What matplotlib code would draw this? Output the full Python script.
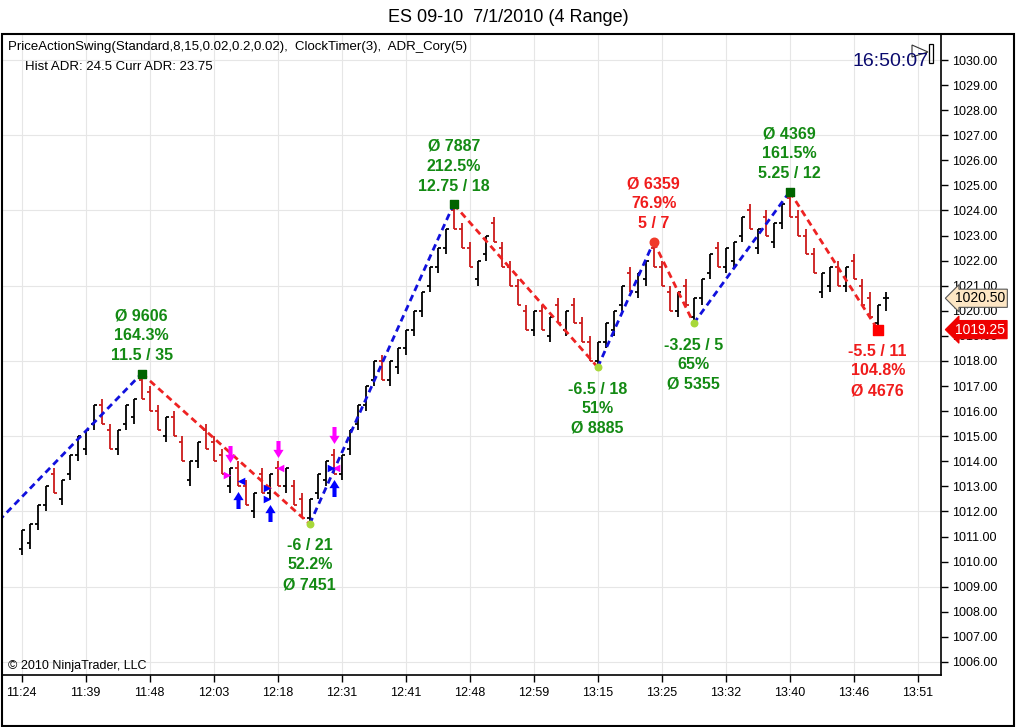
import numpy as np
import matplotlib
matplotlib.use("Agg")
import matplotlib.pyplot as plt
from matplotlib.path import Path
from matplotlib.patches import Rectangle, Polygon

plt.rcParams['font.family'] = ['Liberation Sans', 'DejaVu Sans']

# ---- range bars (4 tick range), one entry per bar ----
highs = [1011.25, 1011.5, 1012.25, 1013.0, 1013.75, 1013.25, 1014.25, 1015.0, 1015.25, 1016.25,
         1016.5, 1015.5, 1015.25, 1016.25, 1016.5, 1017.5, 1017.0, 1016.25, 1015.75, 1016.0,
         1015.0, 1014.0, 1014.75, 1015.5, 1015.0, 1014.5, 1013.75, 1014.0, 1013.25, 1012.75,
         1013.75, 1013.5, 1014.0, 1013.75, 1013.25, 1012.75, 1012.5, 1013.5, 1014.0, 1014.5,
         1014.25, 1015.25, 1016.25, 1017.0, 1018.0, 1018.25, 1018.0, 1018.5, 1019.25, 1020.0,
         1020.75, 1021.75, 1022.5, 1023.25, 1024.25, 1023.5, 1022.75, 1022.0, 1023.0, 1023.75,
         1022.75, 1022.0, 1021.25, 1020.25, 1020.0, 1020.25, 1019.75, 1020.5, 1020.0, 1020.5,
         1019.75, 1019.0, 1018.75, 1019.5, 1020.0, 1021.0, 1021.75, 1021.5, 1022.0, 1022.75,
         1022.0, 1021.0, 1020.75, 1021.25, 1020.5, 1021.25, 1022.25, 1022.75, 1022.5, 1022.75,
         1023.75, 1024.25, 1023.25, 1024.0, 1023.5, 1024.25, 1024.75, 1024.0, 1023.25, 1022.5,
         1021.5, 1021.75, 1022.0, 1021.75, 1022.25, 1021.25, 1020.75, 1020.25, 1020.75]
lows = [1010.25, 1010.5, 1011.25, 1012.0, 1012.75, 1012.25, 1013.25, 1014.0, 1014.25, 1015.25,
        1015.5, 1014.5, 1014.25, 1015.25, 1015.5, 1016.5, 1016.0, 1015.25, 1014.75, 1015.0,
        1014.0, 1013.0, 1013.75, 1014.5, 1014.0, 1013.5, 1012.75, 1013.0, 1012.25, 1011.75,
        1012.75, 1012.5, 1013.0, 1012.75, 1012.25, 1011.75, 1011.5, 1012.5, 1013.0, 1013.5,
        1013.25, 1014.25, 1015.25, 1016.0, 1017.0, 1017.25, 1017.0, 1017.5, 1018.25, 1019.0,
        1019.75, 1020.75, 1021.5, 1022.25, 1023.25, 1022.5, 1021.75, 1021.0, 1022.0, 1022.75,
        1021.75, 1021.0, 1020.25, 1019.25, 1019.0, 1019.25, 1018.75, 1019.5, 1019.0, 1019.5,
        1018.75, 1018.0, 1017.75, 1018.5, 1019.0, 1020.0, 1020.75, 1020.5, 1021.0, 1021.75,
        1021.0, 1020.0, 1019.75, 1020.25, 1019.5, 1020.25, 1021.25, 1021.75, 1021.5, 1021.75,
        1022.75, 1023.25, 1022.25, 1023.0, 1022.5, 1023.25, 1023.75, 1023.0, 1022.25, 1021.5,
        1020.5, 1020.75, 1021.0, 1020.75, 1021.25, 1020.25, 1019.75, 1019.25, 1020.0]
opens = [1010.5, 1010.75, 1011.5, 1012.25, 1013.5, 1012.5, 1013.5, 1014.25, 1014.5, 1015.5,
         1016.25, 1015.25, 1014.5, 1015.5, 1015.75, 1017.25, 1016.75, 1016.0, 1015.0, 1015.75,
         1014.75, 1013.25, 1014.0, 1015.25, 1014.75, 1014.25, 1013.0, 1013.75, 1013.0, 1012.0,
         1013.5, 1012.75, 1013.75, 1013.0, 1013.0, 1012.5, 1011.75, 1012.75, 1013.25, 1014.25,
         1013.5, 1014.5, 1015.5, 1016.25, 1017.25, 1018.0, 1017.25, 1017.75, 1018.5, 1019.25,
         1020.0, 1021.0, 1021.75, 1022.5, 1024.0, 1023.25, 1022.5, 1021.25, 1022.25, 1023.5,
         1022.5, 1021.75, 1021.0, 1020.0, 1019.25, 1020.0, 1019.0, 1020.25, 1019.25, 1020.25,
         1019.5, 1018.75, 1018.0, 1018.75, 1019.25, 1020.25, 1021.5, 1020.75, 1021.25, 1022.5,
         1021.75, 1020.75, 1020.0, 1021.0, 1019.75, 1020.5, 1021.5, 1022.5, 1021.75, 1022.0,
         1023.0, 1024.0, 1022.5, 1023.75, 1022.75, 1023.5, 1024.5, 1023.75, 1023.0, 1022.25,
         1020.75, 1021.0, 1021.75, 1021.0, 1022.0, 1021.0, 1020.5, 1019.5, 1020.5]
closes = [1011.25, 1011.5, 1012.25, 1013.0, 1012.75, 1013.25, 1014.25, 1015.0, 1015.25, 1016.25,
          1015.5, 1014.5, 1015.25, 1016.25, 1016.5, 1016.5, 1016.0, 1015.25, 1015.75, 1015.0,
          1014.0, 1014.0, 1014.75, 1014.5, 1014.0, 1013.5, 1013.75, 1013.0, 1012.25, 1012.75,
          1012.75, 1013.5, 1013.0, 1013.75, 1012.25, 1011.75, 1012.5, 1013.5, 1014.0, 1013.5,
          1014.25, 1015.25, 1016.25, 1017.0, 1018.0, 1017.25, 1018.0, 1018.5, 1019.25, 1020.0,
          1020.75, 1021.75, 1022.5, 1023.25, 1023.25, 1022.5, 1021.75, 1022.0, 1023.0, 1022.75,
          1021.75, 1021.0, 1020.25, 1019.25, 1020.0, 1019.25, 1019.75, 1019.5, 1020.0, 1019.5,
          1018.75, 1018.0, 1018.75, 1019.5, 1020.0, 1021.0, 1020.75, 1021.5, 1022.0, 1021.75,
          1021.0, 1020.0, 1020.75, 1020.25, 1020.5, 1021.25, 1022.25, 1021.75, 1022.5, 1022.75,
          1023.75, 1023.25, 1023.25, 1023.0, 1023.5, 1024.25, 1023.75, 1023.0, 1022.25, 1021.5,
          1021.5, 1021.75, 1021.0, 1021.75, 1021.25, 1020.25, 1019.75, 1020.25, 1020.5]

# time axis labels, one every 8 bars
tick_bars = [0, 8, 16, 24, 32, 40, 48, 56, 64, 72, 80, 88, 96, 104, 112]
tick_times = ["11:24", "11:39", "11:48", "12:03", "12:18", "12:31", "12:41", "12:48",
              "12:59", "13:15", "13:25", "13:32", "13:40", "13:46", "13:51"]

# swing points (bar index, price); first one is off the left edge
swing_bars = [-20, 15, 36, 54, 72, 79, 84, 96, 107]
swing_prices = [1006.0, 1017.5, 1011.5, 1024.25, 1017.75, 1022.75, 1019.5, 1024.75, 1019.25]
swing_kind = [None, 'hh', 'hl', 'hh', 'hl', 'lh', 'hl', 'hh', 'll']
swing_text = [None,
              ["Ø 9606", "164.3%", "11.5 / 35"],
              ["-6 / 21", "52.2%", "Ø 7451"],
              ["Ø 7887", "212.5%", "12.75 / 18"],
              ["-6.5 / 18", "51%", "Ø 8885"],
              ["Ø 6359", "76.9%", "5 / 7"],
              ["-3.25 / 5", "65%", "Ø 5355"],
              ["Ø 4369", "161.5%", "5.25 / 12"],
              ["-5.5 / 11", "104.8%", "Ø 4676"]]
swing_text_color = [None, 'g', 'g', 'g', 'g', 'r', 'g', 'g', 'r']

# signal arrows and triangles
arrow_dn_bars = [26, 32, 39]
arrow_dn_prices = [1014.3, 1014.5, 1015.05]
arrow_up_bars = [27, 31, 39]
arrow_up_prices = [1012.45, 1011.95, 1012.95]
tri_mag_right = ([25.6], [1013.45])
tri_mag_left = ([32.3, 39.3], [1013.72, 1013.72])
tri_blue_right = ([30.6, 30.6, 38.7], [1012.95, 1012.48, 1013.72])
tri_blue_left = ([27.4], [1013.23])

last_price = 1020.5
swing_low_price = 1019.25

GREEN = '#138a13'
RED = '#f01c1c'
BAR_RED = '#cc1a1a'

fig = plt.figure(figsize=(10.16, 7.27), dpi=100)
W, H = 1016.0, 727.0
ax = fig.add_axes([2 / W, (H - 675) / H, (941 - 2) / W, (675 - 34) / H])
ax.set_xlim((2 - 21.7) / 8, (941 - 21.7) / 8)
ax.set_ylim(1030 - (675 - 60) / 25.08, 1030 + (60 - 34) / 25.08)

# grid
for y in range(1006, 1031, 3):
    ax.axhline(y, color='#e6e6e6', lw=0.8, zorder=0)
for b in tick_bars:
    ax.axvline(b, color='#e6e6e6', lw=0.8, zorder=0)

# bars
xs = np.arange(len(highs))
cols = ['black' if c >= o else BAR_RED for o, c in zip(opens, closes)]
ax.vlines(xs, lows, highs, colors=cols, lw=1.3, zorder=2)
ax.hlines(opens, xs - 0.38, xs, colors=cols, lw=1.3, zorder=2)
ax.hlines(closes, xs, xs + 0.38, colors=cols, lw=1.3, zorder=2)

# swing lines
for k in range(len(swing_bars) - 1):
    up = swing_prices[k + 1] > swing_prices[k]
    ax.plot(swing_bars[k:k + 2], swing_prices[k:k + 2], color='#1010dd' if up else '#ee2222',
            lw=2.0, ls=(0, (2.4, 1.6)), zorder=3)

# swing markers
mk = {'hh': dict(marker='s', s=40, c='#006400'),
      'hl': dict(marker='o', s=22, c='#a8d83a'),
      'lh': dict(marker='o', s=38, c='#f03a2a'),
      'll': dict(marker='s', s=60, c='#ff0000')}
for b, p, kd in zip(swing_bars, swing_prices, swing_kind):
    if kd is None:
        continue
    ax.scatter([b], [p], zorder=5, **mk[kd])

# swing labels
for b, p, txt, tc, kd in zip(swing_bars, swing_prices, swing_text, swing_text_color, swing_kind):
    if txt is None:
        continue
    color = GREEN if tc == 'g' else RED
    above = kd in ('hh', 'lh')
    offs = [58, 38, 18] if above else [-22, -41, -61]
    for line, off in zip(txt, offs):
        ax.annotate(line, (b, p), xytext=(0, off), textcoords='offset pixels',
                    ha='center', va='center', fontsize=11.5, fontweight='bold',
                    color=color, zorder=6)

# signal arrows
arrow_up = Path([(-0.12, -0.5), (0.12, -0.5), (0.12, 0.02), (0.3, 0.02), (0.0, 0.5),
                 (-0.3, 0.02), (-0.12, 0.02), (-0.12, -0.5)], closed=True)
arrow_dn = Path([(x, -y) for x, y in arrow_up.vertices], closed=True)
ax.scatter(arrow_dn_bars, arrow_dn_prices, marker=arrow_dn, s=150, c='#ff00ff', lw=0, zorder=4)
ax.scatter(arrow_up_bars, arrow_up_prices, marker=arrow_up, s=150, c='#0000ff', lw=0, zorder=4)
ax.scatter(*tri_mag_right, marker='>', s=30, c='#ff00ff', lw=0, zorder=4)
ax.scatter(*tri_mag_left, marker='<', s=30, c='#ff00ff', lw=0, zorder=4)
ax.scatter(*tri_blue_right, marker='>', s=30, c='#0000ff', lw=0, zorder=4)
ax.scatter(*tri_blue_left, marker='<', s=30, c='#0000ff', lw=0, zorder=4)

# axes styling
ax.yaxis.tick_right()
ax.set_yticks(np.arange(1006, 1031, 1))
ax.set_yticklabels([f"{v:.2f}" for v in np.arange(1006, 1031, 1)])
ax.set_xticks(tick_bars)
ax.set_xticklabels(tick_times)
ax.tick_params(axis='both', direction='out', length=5, width=1, labelsize=9, pad=3, colors='black')
ax.tick_params(axis='x', pad=4)
for side in ('left', 'top'):
    ax.spines[side].set_visible(False)
ax.spines['right'].set_linewidth(1.2)
ax.spines['bottom'].set_linewidth(1.2)

# price flags on the axis
ax.annotate(f"{last_price:.2f}", xy=(1.0, last_price), xycoords=('axes fraction', 'data'),
            xytext=(14, 0), textcoords='offset pixels', ha='left', va='center', fontsize=10,
            color='black', bbox=dict(boxstyle='larrow,pad=0.15', fc='#fde6c4', ec='#555555', lw=0.8),
            annotation_clip=False, zorder=7)
ax.annotate(f"{swing_low_price:.2f}", xy=(1.0, swing_low_price), xycoords=('axes fraction', 'data'),
            xytext=(14, 0), textcoords='offset pixels', ha='left', va='center', fontsize=10,
            color='white', bbox=dict(boxstyle='larrow,pad=0.15', fc='#ee0000', ec='#ee0000', lw=0.8),
            annotation_clip=False, zorder=7)

# texts
fig.text(508 / W, 1 - 17 / H, "ES 09-10  7/1/2010 (4 Range)", ha='center', va='center', fontsize=13)
fig.text(8 / W, 1 - 47 / H, "PriceActionSwing(Standard,8,15,0.02,0.2,0.02),  ClockTimer(3),  ADR_Cory(5)",
         ha='left', va='center', fontsize=9.5)
fig.text(25 / W, 1 - 67 / H, "Hist ADR: 24.5 Curr ADR: 23.75", ha='left', va='center', fontsize=9.5)
fig.text(852 / W, 1 - 61 / H, "16:50:07", ha='left', va='center', fontsize=14, color='#0a0a6e')
fig.text(8 / W, 1 - 666 / H, "© 2010 NinjaTrader, LLC", ha='left', va='center', fontsize=9)

# small clock icon
fig.patches.append(Polygon([(912 / W, 1 - 45 / H), (928 / W, 1 - 52 / H), (912 / W, 1 - 57 / H)],
                           closed=True, fill=False, ec='#333333', lw=0.8, transform=fig.transFigure))
fig.patches.append(Rectangle((929 / W, 1 - 63 / H), 3.5 / W, 19 / H, fill=False, ec='black', lw=0.9,
                             transform=fig.transFigure))

# outer frame
fig.patches.append(Rectangle((1.5 / W, 1.5 / H), 1012 / W, (725.5 - 34) / H, fill=False, ec='black',
                             lw=1.5, transform=fig.transFigure))

fig.savefig("out.png", dpi=100)
